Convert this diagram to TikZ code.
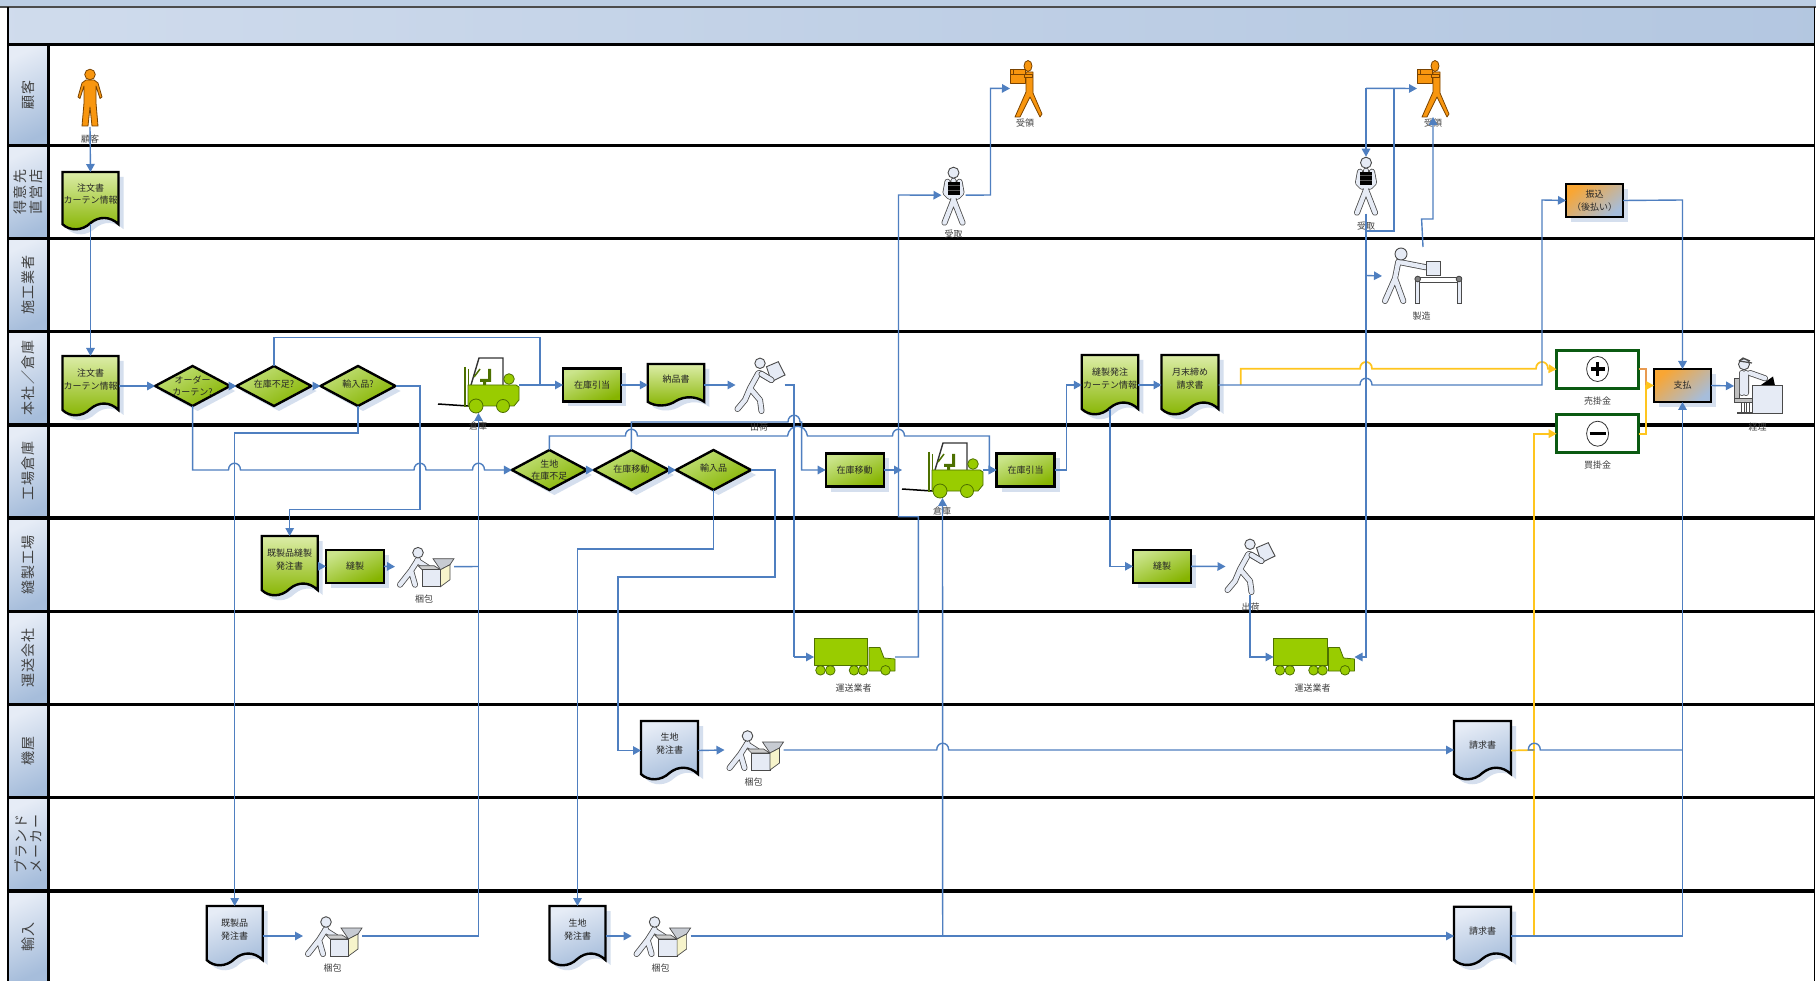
\documentclass[tikz,border=0pt]{standalone}
\usepackage{fontspec}
\newfontfamily\cjk{Noto Sans CJK JP}
\newfontfamily\cjkw[LetterSpace=8]{Noto Sans CJK JP}
\usetikzlibrary{arrows.meta,shapes.geometric,shadows,calc}
\definecolor{flowc}{HTML}{4F7FC0}
\definecolor{yel}{HTML}{FFC51E}
\definecolor{oran}{HTML}{E89A50}
\definecolor{shadowc}{HTML}{D5DFEE}
\definecolor{gl}{HTML}{DCEDA8}
\definecolor{gm}{HTML}{B4D95A}
\definecolor{gd}{HTML}{86B400}
\definecolor{bl}{HTML}{E6ECF6}
\definecolor{bd}{HTML}{A6BDDB}
\definecolor{figG}{HTML}{99CC00}
\definecolor{figGd}{HTML}{4D7000}
\definecolor{figO}{HTML}{F8960F}
\definecolor{figOd}{HTML}{7A4300}
\definecolor{figL}{HTML}{E6EBF5}
\definecolor{figD}{HTML}{4A4A4A}
\definecolor{boxgreen}{HTML}{0B5A12}
\tikzset{
  x=1pt,y=-1pt,
  flowp/.style={draw=flowc,line width=1.4pt,line join=miter},
  flow/.style={flowp,-{Triangle[length=8pt,width=8.5pt]}},
  yflowp/.style={draw=yel,line width=1.7pt},
  yflow/.style={yflowp,-{Triangle[length=8pt,width=8.5pt]}},
  lanel/.style={draw=black,line width=3.2pt},
  headtxt/.style={font=\cjkw\fontsize{14}{15.5}\selectfont,rotate=90,align=center,text=black!75,inner sep=0},
  small/.style={font=\cjk\fontsize{9}{12.5}\selectfont,align=center,text=black!85,inner sep=0},
  lbl/.style={small,text=black!75},
  softshadow/.style={drop shadow={shadow xshift=5pt,shadow yshift=-5pt,fill=shadowc,opacity=1}},
  gbox/.style={rectangle,draw=black,line width=2.4pt,top color=gm!70!white,bottom color=gd,shading angle=25,
     minimum width=58pt,minimum height=33pt,inner sep=0,outer sep=0,small,softshadow},
  gdiam/.style={diamond,aspect=1.875,draw=black,line width=2.4pt,top color=gm!80!white,bottom color=gd,shading angle=30,
     minimum width=75pt,minimum height=40pt,inner sep=0,outer sep=0,softshadow},
  ggdoc/.style={top color=gl,bottom color=gd},
  bbdoc/.style={top color=bl,bottom color=bd,shading angle=20},
  obox/.style={rectangle,draw=black,line width=2.4pt,top color=figO!85!white,bottom color=bd,shading angle=40,
     minimum width=57pt,minimum height=33pt,inner sep=0,outer sep=0,small,softshadow},
  sbox/.style={rectangle,draw=boxgreen,line width=3pt,fill=white,minimum width=82pt,minimum height=37.5pt,inner sep=0,outer sep=0},
  sym/.style={ellipse,draw=black!80,line width=.8pt,fill=white,minimum width=22pt,minimum height=25pt,inner sep=0},
  figout/.style={line width=6pt,draw=figD,line cap=round,line join=round},
  figin/.style={line width=4.4pt,draw=figL,line cap=round,line join=round},
  ficon/.style={inner sep=0,outer sep=0},
  fighead/.style={draw=figD,fill=figL,line width=.9pt},
  orfig/.style={draw=figOd,fill=figO,line width=.8pt,line join=round},
  grfig/.style={draw=figGd,fill=figG,line width=.8pt,line join=round},
}
\newcommand\hop[2]{-- (#1-6,#2) .. controls (#1-6,#2-9) and (#1+6,#2-9) .. (#1+6,#2)}
\newcommand\bighop[2]{-- (#1-10,#2) .. controls (#1-8,#2-13) and (#1+8,#2-13) .. (#1+10,#2)}
\newcommand\limb[1]{\draw[figout] #1; \draw[figin] #1;}
\newcommand\docpath[2]{(0,0) -- (#1,0) -- (#1,#2*.9) .. controls (#1*.85,#2*.76) and (#1*.65,#2*.76) .. (#1*.5,#2*.88) .. controls (#1*.35,#2*1.02) and (#1*.13,#2*1.02) .. (0,#2*.9) -- cycle}
% name, cx, top, w, h, style
\newcommand\docshape[6]{%
  \begin{scope}[shift={(#2-#4/2,#3)}]
    \fill[shadowc,shift={(5,5)}] \docpath{#4}{#5};
    \path[draw=black,line width=2.4pt,#6] \docpath{#4}{#5};
  \end{scope}
  \node[ficon,minimum width=#4pt,minimum height=#5pt] (#1) at (#2,#3+#5/2) {};}
% name, left, top, w, h, icon
\newcommand\icon[6]{%
  \begin{scope}[shift={(#2,#3)}]#6\end{scope}
  \node[ficon,minimum width=#4pt,minimum height=#5pt] (#1) at (#2+#4/2,#3+#5/2) {};}
\newcommand\figcust{%
  \draw[orfig] (8,11)--(16,11)--(20,14)--(24,28)--(22,29.5)--(18,17)--(18,34)--(20,57)--(14,57)--(12,38)--(10,57)--(4,57)--(6,34)--(6,17)--(2,29.5)--(0,28)--(4,14)--cycle;
  \draw[orfig] (12,5.5) circle[radius=5.3];}
\newcommand\figrecv{%
  \draw[orfig] (16,12)--(23,12)--(23,33)--(32,54)--(30,57)--(20,37)--(10,57)--(5,57)--(16,32)--cycle;
  \draw[orfig] (18,6) ellipse[x radius=4,y radius=5.5];
  \draw[orfig] (0,9) rectangle (15,23);
  \draw[figOd,line width=.8pt] (0,14)--(15,14) (3,9)--(3,14);
  \draw[orfig] (14,14) rectangle (22,17);}
\newcommand\figtake{%
  \limb{(12,14)--(12,33)--(3,56) (12,33)--(21,56) (6,15)--(4,26)--(8,30) (18,15)--(20,26)--(16,30)}
  \draw[fighead] (12,6) circle[radius=5.5];
  \fill[black] (6,15) rectangle (18,28);
  \draw[black!65,line width=.4pt] (6,19)--(18,19) (6,24)--(18,24);}
\newcommand\figwalk{%
  \limb{(22.8,16.3)--(14.5,31.3)--(9.5,43)--(2,52) (14.5,31.3)--(24.5,43)--(26,54) (24,16)--(36,23)}
  \draw[fighead] (24.5,6.3) circle[radius=5.2];
  \draw[fighead] (31,9.7)--(42.8,4.7)--(49.5,18)--(36,24.7)--cycle;
  \limb{(26,17)--(36,23)}}
\newcommand\figpack{%
  \limb{(23,13)--(16,24)--(5,38) (16,24)--(20,38) (22,14)--(33,21)}
  \draw[fighead] (23,6) circle[radius=5.3];
  \draw[draw=figD,fill=white!60!gray,line width=.7pt] (27,23)--(23,19)--(39,19)--(45.5,23)--cycle;
  \draw[draw=figD,fill=figL!70!gray,line width=.7pt] (38,12)--(59,12)--(55,18)--(45.5,23)--cycle;
  \draw[draw=figD,fill=figL,line width=.7pt] (27,23) rectangle (45.5,40);
  \draw[draw=figD,fill=gray!30!yellow!25!white,line width=.7pt] (45.5,23)--(55,18)--(55,33)--(45.5,40)--cycle;}
\newcommand\figfork{%
  \draw[black,line width=1.5pt] (0,47)--(30,49);
  \draw[figGd,line width=1.6pt] (27,10)--(27,50);
  \draw[figGd,line width=1pt] (30,12)--(30,50);
  \draw[black!80,line width=1.4pt] (33,28)--(41,1)--(65,1)--(65,28);
  \draw[figGd,line width=1.5pt] (36,20)--(42,12);
  \fill[figGd] (42,22) rectangle (52,25) (50,12) rectangle (53,25) (45,25) rectangle (48,28);
  \draw[grfig] (30,28)--(78,28)--(81,30)--(81,43)--(76,49)--(30,49)--cycle;
  \draw[grfig] (71,22) circle[radius=5.3];
  \draw[grfig] (38,49) circle[radius=7];
  \draw[grfig] (65,49) circle[radius=6.5];}
\newcommand\figtruck{%
  \draw[grfig] (0,0) rectangle (53.5,27);
  \draw[grfig] (55,9.5)--(66,9.5)--(70,20)--(81,21)--(81,33)--(55,33)--cycle;
  \draw[grfig] (6.5,32.3) circle[radius=4.8];
  \draw[grfig] (16.3,32.3) circle[radius=4.8];
  \draw[grfig] (40,32.3) circle[radius=4.8];
  \draw[grfig] (49,32.3) circle[radius=4.8];
  \draw[grfig] (71.5,32.3) circle[radius=4.8];}
\newcommand\figmfg{%
  \limb{(16.3,14.7)--(13,31.3)--(3,54) (13,31.3)--(21.3,54) (17,15)--(44,20.3)}
  \draw[fighead] (19,7) circle[radius=6];
  \draw[fighead] (44.7,14) rectangle (58.7,28);
  \draw[figD,line width=.9pt,fill=white] (35,30) rectangle (79,35);
  \draw[figD,line width=.9pt,fill=figL] (35.7-2,33) rectangle (35.7+2,56.5);
  \draw[figD,line width=.9pt,fill=figL] (77-2,33) rectangle (77+2,56.5);
  \draw[figD,line width=.9pt,fill=gray] (35.7,32) circle[radius=2.8];
  \draw[figD,line width=.9pt,fill=gray] (77,32) circle[radius=2.8];}
\newcommand\figacct{%
  \draw[figD,fill=gray!50,line width=.7pt] (0,21.3) rectangle (5,41.3);
  \draw[figD,fill=gray!50,line width=.7pt] (0,41.3) rectangle (18,45);
  \draw[figD,fill=white,line width=.7pt] (7,45) rectangle (10,55) (12,45) rectangle (15,55);
  \fill[figD] (3.3,54.7) rectangle (19.3,57);
  \limb{(8,16)--(8,36) (12,16)--(12,36) (16,16)--(31,21.3)}
  \draw[fighead] (10,7.3) circle[radius=5.5];
  \draw[figD,line width=1.2pt] (5,4)--(9,1)--(16,4) (5,4)--(18,6);
  \fill[black] (26,28.7)--(39,19.5)--(41,28.7)--cycle;
  \draw[figD,fill=figL,line width=.8pt] (18.3,28.7) rectangle (48.3,56.3);}
\begin{document}
\begin{tikzpicture}
\useasboundingbox (0,0) rectangle (1816,981);
\fill[white] (0,0) rectangle (1816,981);
% title bands
\fill[bd!75!white] (0,0) rectangle (1816,7.3);
\fill[left color=bl!65!bd,right color=bd!85!white,middle color=bl!40!bd] (8,7.3) rectangle (1814,44.7);
% lane headers
\foreach \ya/\yb in {44.7/145.7,145.7/238.7,238.7/331.7,331.7/425,425/518,518/611.7,611.7/704.5,704.5/797.7,797.7/891,891/981}{
  \fill[top color=bl,bottom color=bd,shading angle=25] (8,\ya) rectangle (48,\yb);}
% lane lines
\draw[draw=black!70,line width=1.6pt] (0,7.3) -- (1816,7.3);
\foreach \yy in {44.7,145.7,238.7,331.7,425,518,611.7,704.5,797.7,891}{
  \draw[lanel] (8,\yy) -- (1814,\yy);}
\draw[draw=black,line width=2pt] (8,7.3) -- (8,981);
\draw[draw=black,line width=3pt] (48,44.7) -- (48,981);
\draw[draw=black,line width=1.6pt] (1814.5,7.3) -- (1814.5,981);
% lane titles
\node[headtxt] (h1) at (28,95) {顧客};
\node[headtxt] (h2) at (28,192) {得意先\\直営店};
\node[headtxt] (h3) at (28,285) {施工業者};
\node[headtxt] (h4) at (28,378) {本社／倉庫};
\node[headtxt] (h5) at (28,471) {工場倉庫};
\node[headtxt] (h6) at (28,565) {縫製工場};
\node[headtxt] (h7) at (28,658) {運送会社};
\node[headtxt] (h8) at (28,751) {機屋};
\node[headtxt] (h9) at (28,844) {ブランド\\メーカー};
\node[headtxt] (h10) at (28,937) {輸入};
% icons
\icon{cust}{78}{69}{24}{58}{\figcust}
\node[lbl] (lcust) at (90,139) {顧客};
\icon{recv1}{1010}{60}{32}{57}{\figrecv}
\node[lbl] (lrecv1) at (1025,122.7) {受領};
\icon{recv2}{1417}{60}{32}{57}{\figrecv}
\node[lbl] (lrecv2) at (1433,122.7) {受領};
\icon{take1}{941.5}{166.7}{24}{57}{\figtake}
\node[lbl] (ltake1) at (953.7,234) {受取};
\icon{take2}{1354}{156.7}{24}{57}{\figtake}
\node[lbl] (ltake2) at (1366,226) {受取};
\icon{mfg}{1382}{247}{82}{58}{\figmfg}
\node[lbl] (lmfg) at (1421.6,315.7) {製造};
\icon{fork1}{438}{357}{81}{56}{\figfork}
\node[lbl] (lfork1) at (478,426) {倉庫};
\icon{fork2}{902}{442}{81}{56}{\figfork}
\node[lbl] (lfork2) at (942,511) {倉庫};
\icon{ship1}{735.5}{357}{49}{56}{\figwalk}
\node[lbl] (lship1) at (759,427) {出荷};
\icon{ship2}{1225.5}{538}{49}{57}{\figwalk}
\node[lbl] (lship2) at (1250.5,606.7) {出荷};
\icon{truck1}{814}{638}{81}{38}{\figtruck}
\node[lbl] (ltruck1) at (853.5,688) {運送業者};
\icon{truck2}{1273.5}{638}{81}{38}{\figtruck}
\node[lbl] (ltruck2) at (1312.7,688) {運送業者};
\icon{pack1}{395}{546.7}{59}{40}{\figpack}
\node[lbl] (lpack1) at (424,599) {梱包};
\icon{pack2}{724.5}{730}{59}{40}{\figpack}
\node[lbl] (lpack2) at (753.6,782) {梱包};
\icon{pack3}{303}{916}{59}{40}{\figpack}
\node[lbl] (lpack3) at (332.6,968) {梱包};
\icon{pack4}{631.6}{916}{59}{40}{\figpack}
\node[lbl] (lpack4) at (660.7,968) {梱包};
\icon{acct}{1734}{357}{49}{58}{\figacct}
\node[lbl] (lacct) at (1757.7,427) {経理};
% documents
\docshape{doc1}{90.5}{172}{56}{58}{ggdoc}
\node[small] (doc1t) at (90.5,194) {注文書\\カーテン情報};
\docshape{doc2}{90.5}{356}{56}{60}{ggdoc}
\node[small] (doc2t) at (90.5,379.5) {注文書\\カーテン情報};
\docshape{docn}{676}{364}{56.5}{42}{ggdoc}
\node[small] (docnt) at (676,379) {納品書};
\docshape{docs}{1110}{355}{56.5}{60}{ggdoc}
\node[small] (docst) at (1110,378.5) {縫製発注\\カーテン情報};
\docshape{docm}{1190}{355}{57}{60}{ggdoc}
\node[small] (docmt) at (1190,378.5) {月末締め\\請求書};
\docshape{docw}{289.7}{536}{56}{60}{ggdoc}
\node[small] (docwt) at (289.7,559.5) {既製品縫製\\発注書};
\docshape{docf}{669.5}{721}{57}{59}{bbdoc}
\node[small] (docft) at (669.5,743.5) {生地\\発注書};
\docshape{docg}{234.7}{906}{56}{60}{bbdoc}
\node[small] (docgt) at (234.7,929.5) {既製品\\発注書};
\docshape{doch}{577.5}{906}{56}{60}{bbdoc}
\node[small] (docht) at (577.5,929.5) {生地\\発注書};
\docshape{inv1}{1482.5}{721}{57}{59}{bbdoc}
\node[small] (inv1t) at (1482.5,745) {請求書};
\docshape{inv2}{1482.5}{906.7}{57}{59}{bbdoc}
\node[small] (inv2t) at (1482.5,931) {請求書};
% diamonds
\node[gdiam] (d1) at (192.6,386) {};
\node[small] (d1t) at (192.6,386) {オーダー\\カーテン?};
\node[gdiam] (d2) at (274,386) {};
\node[small] (d2t) at (274,384) {在庫不足?};
\node[gdiam] (d3) at (358,386) {};
\node[small] (d3t) at (358,384) {輸入品?};
\node[gdiam] (e1) at (549.4,470) {};
\node[small] (e1t) at (549.4,470) {生地\\在庫不足};
\node[gdiam] (e2) at (631.4,470) {};
\node[small] (e2t) at (631.4,469) {在庫移動};
\node[gdiam] (e3) at (713.5,470) {};
\node[small] (e3t) at (713.5,468) {輸入品};
% boxes
\node[gbox] (b1) at (592,385) {在庫引当};
\node[gbox] (b2) at (854.7,470) {在庫移動};
\node[gbox] (b3) at (1025.5,470) {在庫引当};
\node[gbox] (b4) at (355,566.3) {縫製};
\node[gbox] (b5) at (1162,566.3) {縫製};
\node[obox] (pay) at (1682.5,385.5) {支払};
\node[obox] (furi) at (1594.5,200.5) {振込\\（後払い）};
\node[sbox] (sell) at (1597.6,369.3) {};
\node[sym] (sellc) at (1597.6,369) {};
\draw[black,line width=3.6pt] (sellc.center) ++(-7,0) -- ++(14,0) (sellc.center) ++(0,-7) -- ++(0,14);
\node[lbl] (lsell) at (1597.6,400.7) {売掛金};
\node[sbox] (buy) at (1597.6,433.7) {};
\node[sym] (buyc) at (1597.6,433.7) {};
\draw[black,line width=3.6pt] (buyc.center) ++(-8,0) -- ++(16,0);
\node[lbl] (lbuy) at (1597.6,465) {買掛金};
% free joints
\coordinate (j1) at (540,385);
\coordinate (j2) at (942.7,936);
\coordinate (j3) at (478.5,566.5);
\coordinate (j4) at (1366,88.3);
\coordinate (j5) at (1394,88.3);
\coordinate (j6) at (1366,275.5);
\coordinate (j7) at (1240.8,385);
\coordinate (j8) at (1682.5,750);
\coordinate (j9) at (1534.3,936);
% yellow
\draw[yflow] (j7) -- (1240.8,368.7) \hop{1366}{368.7} \hop{1542}{368.7} -- (sell.west);
\draw[yflow] (j9) |- (buy.west);
\draw[yflowp] (inv1.east) -- (1534.3,750);
\draw[draw=oran,line width=1.6pt] (sell.east) -- (1646,369.3) -- (1646,385);
\draw[yflowp] (buy.east) -- (1646,433.7) -- (1646,385.5);
\draw[yflow] (1646,385.5) -- (pay.west);
% flows
\draw[flow] (cust.south) -- (doc1.north);
\draw[flow] ([yshift=6pt]doc1.south) -- (doc2.north);
\draw[flow] (doc2.east) -- (d1.west);
\draw[flow] (d1.east) -- (d2.west);
\draw[flow] (d2.east) -- (d3.west);
\draw[flowp] (d2.north) |- (540,337.7) -- (j1);
\draw[flow] (fork1.east) -- (b1.west);
\draw[flow] (b1.east) -- (docn.west |- b1.east);
\draw[flow] (docn.east |- b1.east) -- (ship1.west);
\draw[flow] (d1.south) -- (192.6,470) \hop{234.5}{470} \hop{420}{470} \hop{478.5}{470} -- (e1.west);
\draw[flowp] (d3.east) -- (420,386) -- (420,509.3) -- (289.7,509.3);
\draw[flow] (289.7,509.3) -- (docw.north);
\draw[flow] (d3.south) -- (358,433) -- (234.7,433) -- (docg.north);
\draw[flow] (docw.east |- b4.west) -- (b4.west);
\draw[flow] (b4.east) -- (pack1.west);
\draw[flowp] (pack1.east) -- (j3);
\draw[flow] (docg.east |- pack3.west) -- (pack3.west);
\draw[flow] (pack3.east) -| (fork1.south);
\draw[flow] (e1.east) -- (e2.west);
\draw[flow] (e2.east) -- (e3.west);
\draw[flow] (e1.north) -- (549.4,436) \hop{631.4}{436} \bighop{797.5}{436} \hop{898.5}{436} -- (989.4,436) -- (989.4,470) -- (b3.west);
\draw[flow] (e2.north) -- (631.4,422) \hop{794}{422} -- (801.6,422) -- (801.6,470) -- (b2.west);
\draw[flowp] (ship1.east) -- (794,385) -- (794,657);
\draw[flow] (794,657) -- (truck1.west);
\draw[flow] (e3.east) -- (775,470) -- (775,577) -- (618,577) -- (618,750.5) -- (docf.west);
\draw[flow] (e3.south) -- (713.5,549) -- (577.5,549) -- (doch.north);
\draw[flow] (docf.east) -- (pack2.west);
\draw[flow] (pack2.east) \hop{942.7}{750} -- (inv1.west |- 0,750);
\draw[flow] (doch.east |- pack4.west) -- (pack4.west);
\draw[flow] (pack4.east) -- (inv2.west |- pack4.west);
\draw[flow] (j2) -- (fork2.south);
\draw[flow] (b2.east) -- (fork2.west);
\draw[flow] (fork2.east) -- (b3.west);
\draw[flow] (truck1.east) -- (918.4,657) -- (918.4,516.7) -- (898.5,516.7) -- (898.5,195) -- (take1.west);
\draw[flow] (take1.east) -- (990.5,195) -- (990.5,88.3) -- (recv1.west);
\draw[flow] (b3.east) -- (1066.7,470) -- (1066.7,385) -- (docs.west);
\draw[flow] (docs.east) -- (docm.west);
\draw[flow] ([yshift=6pt]docs.south) |- (b5.west);
\draw[flow] (b5.east) -- (ship2.west);
\draw[flow] (ship2.south) |- (truck2.west);
\draw[flow] (j4) -- (take2.north);
\draw[flow] (j4) -- (recv2.west);
\draw[flowp] (1366,231) -- (1394,231) -- (j5);
\draw[flow] (take2.south) -- (1366,657) -- (truck2.east);
\draw[flow] (j6) -- (mfg.west);
\draw[flow] (mfg.north) -- (1421.6,219) -- (1433,219) -- (recv2.south);
\draw[flow] (docm.east) \hop{1366}{385} -- (1542,385) -- (1542,200) -- (furi.west);
\draw[flow] (furi.east) -- (1682.5,200) -- (pay.north);
\draw[flow] (inv2.east |- 0,936) -- (1682.5,936) -- (pay.south);
\draw[flowp] (1534.3,750) \hop{1534.3}{750} -- (j8);
\draw[flow] (pay.east) -- (acct.west);
\end{tikzpicture}
\end{document}
